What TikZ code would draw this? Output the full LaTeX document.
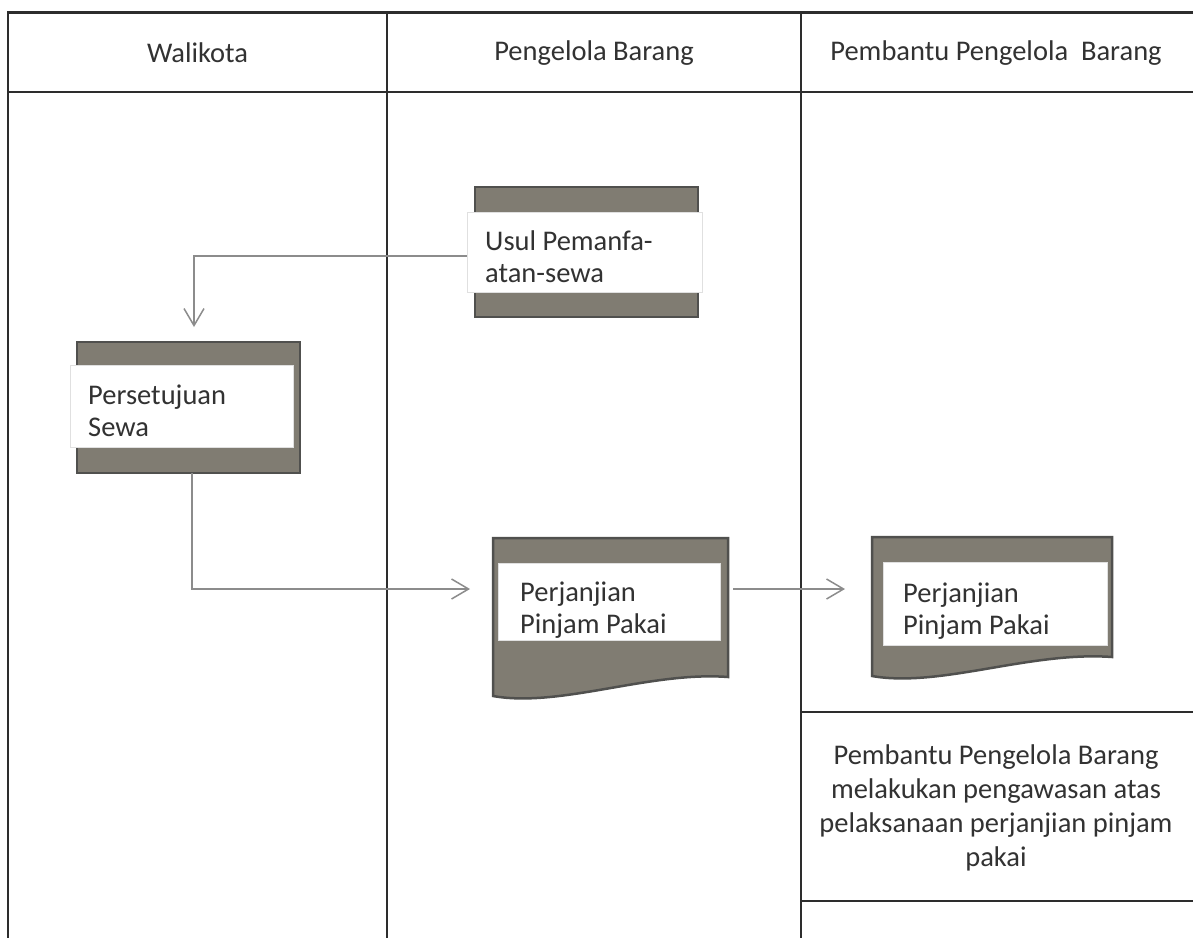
\documentclass[tikz,border=0pt]{standalone}
\usepackage{fontspec}
\setmainfont{Carlito}
\usetikzlibrary{arrows.meta}
\definecolor{framegray}{RGB}{128,124,114}
\definecolor{frameedge}{RGB}{80,80,78}
\definecolor{conngray}{RGB}{140,140,140}
\definecolor{tablegray}{RGB}{45,45,45}
\definecolor{txtgray}{RGB}{50,50,50}
\tikzset{
  tableline/.style={draw=tablegray, line width=2pt},
  outerbox/.style={rectangle, draw=frameedge, fill=framegray, line width=2.5pt, inner sep=0pt},
  docshape/.style={draw=frameedge, fill=framegray, line width=2.5pt, line join=miter},
  whitebox/.style={rectangle, draw=black!12, fill=white, line width=0.8pt, inner sep=0pt},
  boxtext/.style={anchor=west, inner sep=0pt, align=flush left,
    font=\fontsize{28.5}{32}\selectfont, text=txtgray},
  header/.style={font=\fontsize{28.5}{34}\selectfont, text=txtgray, inner sep=0pt},
  desc/.style={font=\fontsize{28.5}{34}\selectfont, text=txtgray, align=center, inner sep=0pt},
  conn/.style={draw=conngray, line width=1.5pt, -{Straight Barb[length=17pt,width=20pt,line width=1.5pt]}},
}
\begin{document}
\begin{tikzpicture}[x=1pt,y=-1pt]
\useasboundingbox (0,0) rectangle (1193,938);
\fill[white] (0,0) rectangle (1193,938);
% table
\draw[draw=tablegray, line width=3pt] (8,12) -- (1193,12);
\draw[tableline] (8,92) -- (1193,92);
\draw[tableline] (8,11) -- (8,938);
\draw[tableline] (387,11) -- (387,938);
\draw[tableline] (801,11) -- (801,938);
\draw[tableline] (801,712) -- (1193,712);
\draw[tableline] (801,901) -- (1193,901);
% headers
\node[header] (h1) at (197.5,53) {Walikota};
\node[header] (h2) at (594,53) {Pengelola Barang};
\node[header] (h3) at (996,53) {Pembantu Pengelola\ \ Barang};
% Usul
\node[outerbox, minimum width=223pt, minimum height=130pt] (usulO) at (586.5,252) {};
\node[whitebox, minimum width=235pt, minimum height=80pt] (usul) at (584.5,252) {};
\node[boxtext] (usulT) at (485,257) {Usul Pemanfa-\\atan-sewa};
% Persetujuan
\node[outerbox, minimum width=223pt, minimum height=131pt] (persO) at (188.5,407.5) {};
\node[whitebox, minimum width=223pt, minimum height=82pt] (pers) at (181.5,406) {};
\node[boxtext] (persT) at (88,411) {Persetujuan\\Sewa};
% Perjanjian middle
\draw[docshape] (493,538) -- (728,538) -- (728,677) .. controls (650,671) and (560,708) .. (493,696) -- cycle;
\node[whitebox, minimum width=222pt, minimum height=77pt] (perj1) at (609,601.5) {};
\node[boxtext] (perj1T) at (520,610) {Perjanjian\\Pinjam Pakai};
% Perjanjian right
\draw[docshape] (872,537) -- (1112,537) -- (1112,657) .. controls (1030,651) and (940,688) .. (872,676) -- cycle;
\node[whitebox, minimum width=224pt, minimum height=83pt] (perj2) at (995,603.5) {};
\node[boxtext] (perj2T) at (903,611) {Perjanjian\\Pinjam Pakai};
% description
\node[desc] (desc) at (996,808) {Pembantu Pengelola Barang\\melakukan pengawasan atas\\pelaksanaan perjanjian pinjam\\pakai};
% connectors
\coordinate (a1e) at (194,327);
\draw[conn] (usul.west |- 0,256) -| (a1e);
\coordinate (a2s) at (192,473);
\coordinate (a2e) at (470,589);
\draw[conn] (a2s) |- (a2e);
\coordinate (a3s) at (733,589);
\coordinate (a3e) at (845,589);
\draw[conn] (a3s) -- (a3e);
\end{tikzpicture}
\end{document}
